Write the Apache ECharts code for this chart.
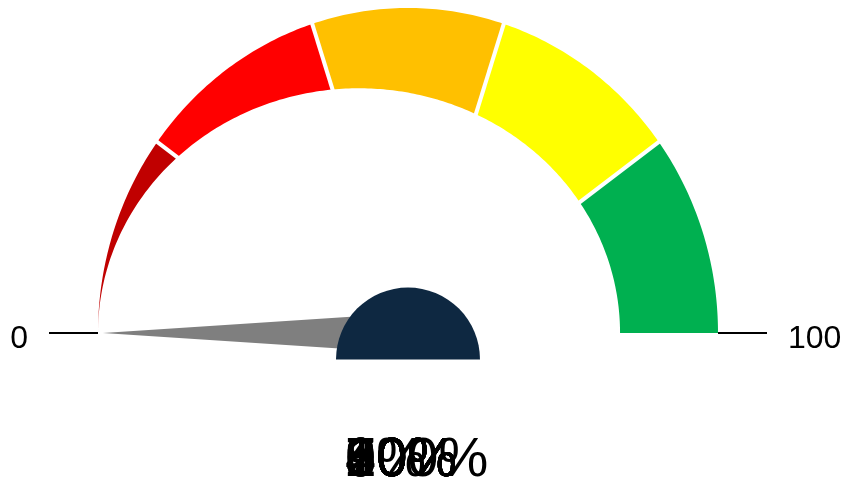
<!DOCTYPE html>
<html>
<head>
<meta charset="utf-8">
<script src="https://cdn.jsdelivr.net/npm/echarts@6/dist/echarts.min.js"></script>
<style>
  html, body { margin: 0; background: #fff; }
  #chart { width: 846px; height: 492px; }
</style>
</head>
<body>
<div id="chart"></div>
<script>
const bandEdges = [0, 20, 40, 60, 80, 100];
const bandColors = ['#c00000', '#ff0000', '#ffc000', '#ffff00', '#00b050'];
const needleValue = [0];
const scaleEnds = [0, 100];
const valueLabels = ['0%', '10%', '20%', '30%', '40%', '50%', '60%', '70%', '80%', '90%', '100%'];

const bands = bandEdges.slice(0, -1).map((v, i) => [v, bandEdges[i + 1]]);
const gaps = bandEdges.slice(1, -1);

// outer rim = unit circle in axis units, inner rim = off-centre ellipse
const inner = {cx: -0.158, a: 0.842, b: 0.753};

const angleOf = v => Math.PI * (1 - v / 100);

function innerR(t) {
    const c = Math.cos(t), s = Math.sin(t);
    const a2 = inner.a * inner.a, b2 = inner.b * inner.b;
    const A = c * c / a2 + s * s / b2;
    const B = -2 * c * inner.cx / a2;
    const C = inner.cx * inner.cx / a2 - 1;
    return (-B + Math.sqrt(B * B - 4 * A * C)) / (2 * A);
}

const chart = echarts.init(document.getElementById('chart'));
chart.setOption({
    animation: false,
    grid: {left: 98, right: 128, top: 8, height: 325},
    xAxis: {type: 'value', min: -1, max: 1, show: false},
    yAxis: {type: 'value', min: 0, max: 1, show: false},
    series: [
        {
            // coloured bands
            type: 'custom',
            z: 1,
            clip: false,
            data: bands,
            renderItem(params, api) {
                const v0 = api.value(0), v1 = api.value(1);
                const n = 48;
                const pts = [];
                for (let k = 0; k <= n; k++) {
                    const t = angleOf(v0 + (v1 - v0) * k / n);
                    pts.push(api.coord([Math.cos(t), Math.sin(t)]));
                }
                for (let k = n; k >= 0; k--) {
                    const t = angleOf(v0 + (v1 - v0) * k / n);
                    const r = innerR(t);
                    pts.push(api.coord([r * Math.cos(t), r * Math.sin(t)]));
                }
                return {
                    type: 'polygon',
                    shape: {points: pts},
                    style: {fill: bandColors[params.dataIndex]}
                };
            }
        },
        {
            // white gaps between bands
            type: 'custom',
            z: 2,
            clip: false,
            data: gaps.map(v => [v]),
            renderItem(params, api) {
                const t = angleOf(api.value(0));
                const p1 = api.coord([0.6 * Math.cos(t), 0.6 * Math.sin(t)]);
                const p2 = api.coord([1.05 * Math.cos(t), 1.05 * Math.sin(t)]);
                return {
                    type: 'line',
                    shape: {x1: p1[0], y1: p1[1], x2: p2[0], y2: p2[1]},
                    style: {stroke: '#fff', lineWidth: 4}
                };
            }
        },
        {
            // needle
            type: 'custom',
            z: 3,
            clip: false,
            data: needleValue.map(v => [v]),
            renderItem(params, api) {
                const t = angleOf(api.value(0));
                const o = api.coord([0, 0]);
                const p = api.coord([0.984 * Math.cos(t), 0.984 * Math.sin(t)]);
                const dx = p[0] - o[0], dy = p[1] - o[1];
                const len = Math.sqrt(dx * dx + dy * dy);
                const nx = -dy / len * 20, ny = dx / len * 20;
                return {
                    type: 'polygon',
                    shape: {points: [p, [o[0] + nx, o[1] + ny], [o[0] - nx, o[1] - ny]]},
                    style: {fill: '#7f7f7f'}
                };
            }
        },
        {
            // hub
            type: 'custom',
            z: 4,
            clip: false,
            data: [[0]],
            renderItem(params, api) {
                const o = api.coord([0, 0]);
                return {
                    type: 'sector',
                    shape: {cx: o[0], cy: o[1] + 26.5, r0: 0, r: 72,
                        startAngle: Math.PI, endAngle: Math.PI * 2, clockwise: true},
                    style: {fill: '#0e2841'}
                };
            }
        },
        {
            // scale end ticks and labels
            type: 'custom',
            z: 5,
            clip: false,
            data: scaleEnds.map(v => [v]),
            renderItem(params, api) {
                const v = api.value(0);
                const t = angleOf(v);
                const e = api.coord([Math.cos(t), Math.sin(t)]);
                const dir = Math.cos(t) < 0 ? -1 : 1;
                return {
                    type: 'group',
                    children: [
                        {
                            type: 'line',
                            shape: {x1: e[0], y1: e[1], x2: e[0] + dir * 49, y2: e[1]},
                            style: {stroke: '#000', lineWidth: 2}
                        },
                        {
                            type: 'text',
                            x: e[0] + dir * 70,
                            y: e[1] + 6,
                            style: {
                                text: String(v),
                                fill: '#000',
                                font: '32px "Liberation Sans", Arial, sans-serif',
                                align: dir < 0 ? 'right' : 'left',
                                verticalAlign: 'middle'
                            }
                        }
                    ]
                };
            }
        },
        {
            // overlapping value labels
            type: 'custom',
            z: 6,
            clip: false,
            data: valueLabels.map((s, i) => [i]),
            renderItem(params, api) {
                const o = api.coord([0, 0]);
                return {
                    type: 'text',
                    x: o[0] - 63,
                    y: o[1] + 128,
                    style: {
                        text: valueLabels[params.dataIndex],
                        fill: '#000',
                        font: '56px "Liberation Sans", Arial, sans-serif',
                        align: 'left',
                        verticalAlign: 'middle'
                    }
                };
            }
        }
    ]
});
</script>
</body>
</html>
